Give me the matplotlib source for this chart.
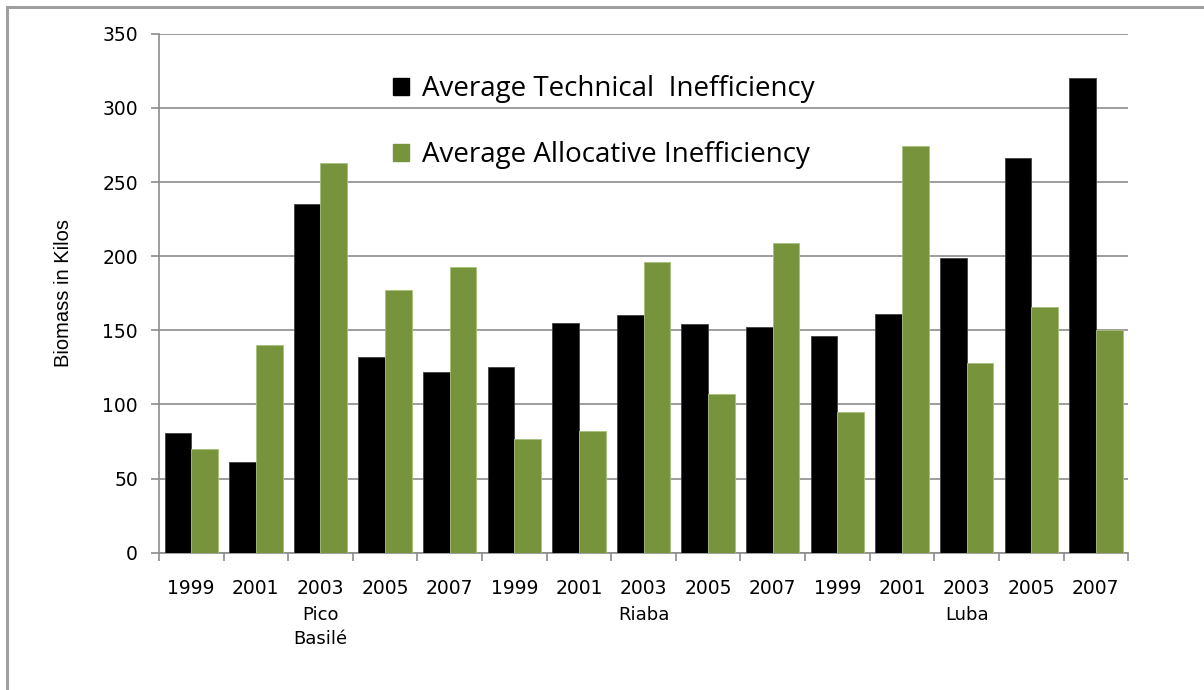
import matplotlib.pyplot as plt
from matplotlib.lines import Line2D
from matplotlib.patches import Patch
import numpy as np

years = ['1999', '2001', '2003', '2005', '2007'] * 3
sites = ['Pico\nBasilé', 'Riaba', 'Luba']
technical = [81, 61, 235, 132, 122, 125, 155, 160, 154, 152, 146, 161, 199, 266, 320]
allocative = [70, 140, 263, 177, 193, 77, 82, 196, 107, 209, 95, 274, 128, 166, 150]

black = '#000000'
green = '#77933C'
grid_c = '#8C8C8C'

fig = plt.figure(figsize=(12.04, 6.90), dpi=100)
ax = fig.add_axes([0.132, 0.199, 0.805, 0.752])

x = np.arange(len(years))
w = 0.413
ax.bar(x - w / 2, technical, w, color=black, edgecolor='#404040', linewidth=0.6, zorder=3)
ax.bar(x + w / 2, allocative, w, color=green, edgecolor='#A9C07A', linewidth=0.6, zorder=3)

ax.set_xlim(-0.5, len(years) - 0.5)
ax.set_ylim(0, 350)
ax.set_yticks(range(0, 351, 50))
ax.yaxis.grid(True, color=grid_c, linewidth=1.2, zorder=0)
ax.tick_params(axis='y', length=6, color=grid_c, width=1.2, labelsize=13.5, pad=9)
ax.tick_params(axis='x', length=0, labelsize=13.5, pad=19)
ax.set_xticks(x)
ax.set_xticklabels(years)
ax.set_xticks(np.arange(-0.5, len(years), 1), minor=True)
ax.tick_params(axis='x', which='minor', length=6, color=grid_c, width=1.2)
for s in ['top', 'right']:
    ax.spines[s].set_visible(False)
for s in ['left', 'bottom']:
    ax.spines[s].set_color(grid_c)
    ax.spines[s].set_linewidth(1.2)

for lbl in ax.get_xticklabels() + ax.get_yticklabels():
    lbl.set_family('DejaVu Sans')

# site names under the middle year of each group
for i, name in enumerate(sites):
    ax.text(i * 5 + 2, -36, name, ha='center', va='top', fontsize=13,
            linespacing=1.4, transform=ax.transData, family='DejaVu Sans')

ax.set_ylabel('Biomass in Kilos', family='Liberation Sans', fontsize=14.5, labelpad=21)

handles = [Patch(color=black), Patch(color=green)]
leg = fig.legend(handles, ['Average Technical  Inefficiency', 'Average Allocative Inefficiency'],
                 loc='upper left', bbox_to_anchor=(0.3055, 0.927), frameon=False,
                 prop={'family': 'Open Sans', 'size': 20}, handlelength=0.6,
                 handleheight=0.6, handletextpad=0.45, labelspacing=1.37)

# outer frame of the chart
fig.add_artist(Line2D([0.006, 1.0], [0.99, 0.99], color='#A0A0A0', linewidth=2.2))
fig.add_artist(Line2D([0.006, 0.006], [0.0, 0.99], color='#A0A0A0', linewidth=2.2))

fig.savefig('out.png', dpi=100)
